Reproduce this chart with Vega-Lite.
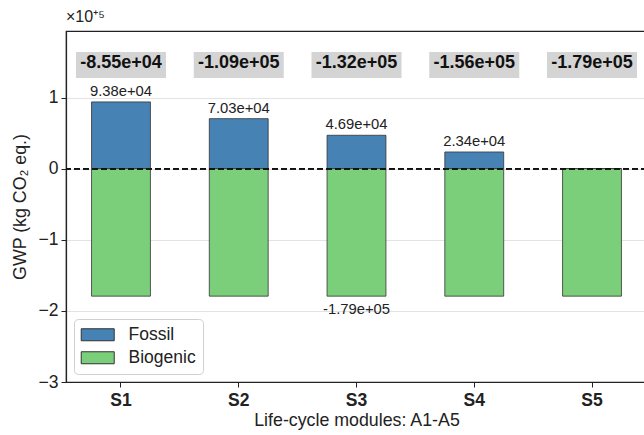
{
  "$schema": "https://vega.github.io/schema/vega-lite/v6.json",
  "autosize": {"type": "none"},
  "padding": {"left": 66, "top": 31, "right": 0, "bottom": 53},
  "width": 581,
  "height": 351,
  "background": "white",
  "title": {"text": "×10⁺⁵", "anchor": "start", "frame": "group", "offset": 6, "fontSize": 16, "fontWeight": "normal", "font": "Liberation Sans", "color": "#222"},
  "config": {
    "font": "Liberation Sans",
    "view": {"stroke": "#222", "strokeWidth": 1.2},
    "axis": {"labelFont": "Liberation Sans", "titleFont": "Liberation Sans", "labelColor": "#222", "titleColor": "#222", "domainColor": "#222", "tickColor": "#222"}
  },
  "datasets": {
    "bars": [
      {"scenario": "S1", "type": "Fossil", "value": 93800, "label": "9.38e+04"},
      {"scenario": "S2", "type": "Fossil", "value": 70300, "label": "7.03e+04"},
      {"scenario": "S3", "type": "Fossil", "value": 46900, "label": "4.69e+04"},
      {"scenario": "S4", "type": "Fossil", "value": 23400, "label": "2.34e+04"},
      {"scenario": "S5", "type": "Fossil", "value": 0, "label": ""},
      {"scenario": "S1", "type": "Biogenic", "value": -179300, "label": ""},
      {"scenario": "S2", "type": "Biogenic", "value": -179300, "label": ""},
      {"scenario": "S3", "type": "Biogenic", "value": -179300, "label": "-1.79e+05"},
      {"scenario": "S4", "type": "Biogenic", "value": -179300, "label": ""},
      {"scenario": "S5", "type": "Biogenic", "value": -179300, "label": ""}
    ],
    "totals": [
      {"scenario": "S1", "total": -85500, "label": "-8.55e+04"},
      {"scenario": "S2", "total": -109000, "label": "-1.09e+05"},
      {"scenario": "S3", "total": -132400, "label": "-1.32e+05"},
      {"scenario": "S4", "total": -155900, "label": "-1.56e+05"},
      {"scenario": "S5", "total": -179300, "label": "-1.79e+05"}
    ]
  },
  "layer": [
    {
      "data": {"name": "bars"},
      "mark": {"type": "bar", "stroke": "#333", "strokeWidth": 0.8},
      "encoding": {
        "x": {"field": "scenario", "type": "nominal", "sort": ["S1", "S2", "S3", "S4", "S5"],
          "scale": {"type": "band", "paddingInner": 0.5, "paddingOuter": 0.217},
          "axis": {"title": "Life-cycle modules: A1-A5", "labelAngle": 0, "labelFontSize": 17.5, "labelFontWeight": "bold", "titleFontSize": 17.8, "titleFontWeight": "normal", "tickSize": 5, "labelPadding": 4, "titlePadding": 3, "domainWidth": 1.2, "tickWidth": 1}},
        "y": {"field": "value", "type": "quantitative",
          "scale": {"domain": [-300000, 193500], "nice": false, "zero": false},
          "axis": {"title": "GWP (kg CO₂ eq.)", "titleFontSize": 17.8, "titleFontWeight": "normal", "labelFontSize": 17.5, "titlePadding": 9,
            "values": [-300000, -250000, -200000, -150000, -100000, -50000, 0, 50000, 100000, 150000],
            "labelExpr": "datum.value % 100000 == 0 ? format(datum.value / 100000, 'd') : ''",
            "tickOpacity": {"condition": {"test": "datum.value % 100000 == 0", "value": 1}, "value": 0},
            "grid": true, "gridColor": "#e3e3e3", "gridWidth": 1, "tickSize": 5, "labelPadding": 3, "domainWidth": 1.2}},
        "y2": {"datum": 0},
        "color": {"field": "type", "type": "nominal",
          "scale": {"domain": ["Fossil", "Biogenic"], "range": ["#4682b4", "#7ccf7a"]},
          "legend": {"title": null, "orient": "bottom-left", "offset": 8, "labelFontSize": 17.5, "labelColor": "#222",
            "symbolType": "M-1.42,-1H4.08V1H-1.42Z", "symbolSize": 144, "symbolStrokeColor": "#333", "symbolStrokeWidth": 1, "symbolOpacity": 1,
            "labelOffset": 30, "rowPadding": 4, "padding": 7, "fillColor": "white", "strokeColor": "#d0d0d0", "cornerRadius": 4}}
      }
    },
    {
      "data": {"name": "bars"},
      "mark": {"type": "rule", "color": "#111", "strokeDash": [6, 3], "strokeWidth": 1.4},
      "encoding": {"y": {"datum": 0, "type": "quantitative"}}
    },
    {
      "data": {"name": "bars"},
      "transform": [{"filter": "datum.type == 'Fossil' && datum.label != ''"}],
      "mark": {"type": "text", "fontSize": 14.8, "baseline": "alphabetic", "dy": -6, "color": "#222"},
      "encoding": {
        "x": {"field": "scenario", "type": "nominal", "sort": ["S1", "S2", "S3", "S4", "S5"]},
        "y": {"field": "value", "type": "quantitative"},
        "text": {"field": "label"}
      }
    },
    {
      "data": {"name": "bars"},
      "transform": [{"filter": "datum.type == 'Biogenic' && datum.label != ''"}],
      "mark": {"type": "text", "fontSize": 14.8, "baseline": "top", "dy": 6, "color": "#222"},
      "encoding": {
        "x": {"field": "scenario", "type": "nominal", "sort": ["S1", "S2", "S3", "S4", "S5"]},
        "y": {"field": "value", "type": "quantitative"},
        "text": {"field": "label"}
      }
    },
    {
      "data": {"name": "totals"},
      "mark": {"type": "bar", "color": "#d4d4d4", "width": 90},
      "encoding": {
        "x": {"field": "scenario", "type": "nominal", "sort": ["S1", "S2", "S3", "S4", "S5"]},
        "y": {"datum": 127400, "type": "quantitative"},
        "y2": {"datum": 164000}
      }
    },
    {
      "data": {"name": "totals"},
      "mark": {"type": "text", "fontSize": 18, "fontWeight": "bold", "baseline": "middle", "color": "#111"},
      "encoding": {
        "x": {"field": "scenario", "type": "nominal", "sort": ["S1", "S2", "S3", "S4", "S5"]},
        "y": {"datum": 148000, "type": "quantitative"},
        "text": {"field": "label"}
      }
    }
  ]
}
